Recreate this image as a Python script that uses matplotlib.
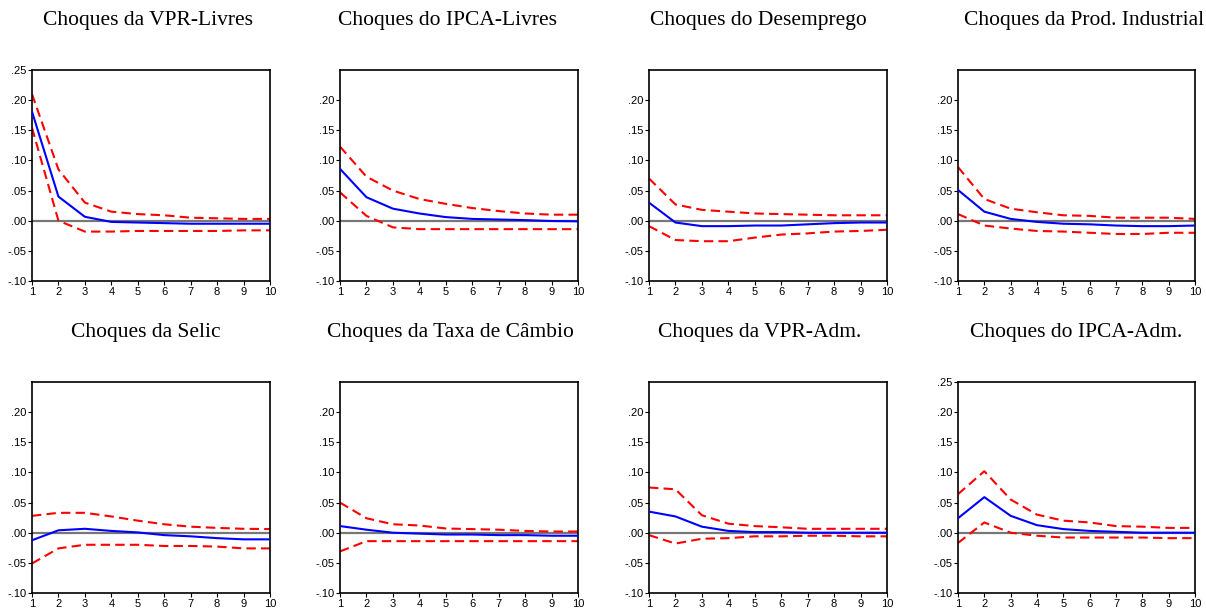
import matplotlib
matplotlib.use('Agg')
import matplotlib.pyplot as plt

# horizon
periods = [1, 2, 3, 4, 5, 6, 7, 8, 9, 10]

titles = ['Choques da VPR-Livres', 'Choques do IPCA-Livres', 'Choques do Desemprego',
          'Choques da Prod. Industrial', 'Choques da Selic', 'Choques da Taxa de Câmbio',
          'Choques da VPR-Adm.', 'Choques do IPCA-Adm.']

# impulse responses (blue) and +/- 2 s.e. bands (red dashed)
resp_vpr_livres = [0.181, 0.040, 0.0065, -0.002, -0.003, -0.004, -0.005, -0.005, -0.005, -0.005]
up_vpr_livres = [0.210, 0.085, 0.030, 0.015, 0.011, 0.009, 0.005, 0.004, 0.003, 0.003]
lo_vpr_livres = [0.154, 0.000, -0.018, -0.018, -0.017, -0.017, -0.017, -0.017, -0.016, -0.016]

resp_ipca_livres = [0.086, 0.039, 0.020, 0.012, 0.006, 0.003, 0.002, 0.001, -0.0005, -0.001]
up_ipca_livres = [0.123, 0.073, 0.050, 0.036, 0.028, 0.021, 0.016, 0.012, 0.010, 0.010]
lo_ipca_livres = [0.047, 0.008, -0.011, -0.014, -0.014, -0.014, -0.014, -0.014, -0.014, -0.014]

resp_desemprego = [0.030, -0.003, -0.009, -0.009, -0.008, -0.008, -0.006, -0.004, -0.003, -0.003]
up_desemprego = [0.070, 0.027, 0.018, 0.015, 0.012, 0.011, 0.010, 0.009, 0.009, 0.009]
lo_desemprego = [-0.009, -0.032, -0.034, -0.034, -0.028, -0.023, -0.021, -0.018, -0.017, -0.015]

resp_prod = [0.051, 0.015, 0.003, -0.002, -0.005, -0.006, -0.008, -0.009, -0.009, -0.008]
up_prod = [0.089, 0.036, 0.020, 0.014, 0.009, 0.008, 0.005, 0.005, 0.005, 0.003]
lo_prod = [0.011, -0.008, -0.013, -0.017, -0.018, -0.020, -0.022, -0.022, -0.020, -0.020]

resp_selic = [-0.0125, 0.004, 0.0065, 0.003, 0.0005, -0.004, -0.006, -0.009, -0.011, -0.011]
up_selic = [0.028, 0.033, 0.033, 0.027, 0.020, 0.014, 0.010, 0.008, 0.0065, 0.006]
lo_selic = [-0.051, -0.026, -0.020, -0.020, -0.020, -0.022, -0.022, -0.023, -0.026, -0.026]

resp_cambio = [0.011, 0.005, 0.000, -0.0015, -0.003, -0.003, -0.004, -0.004, -0.005, -0.005]
up_cambio = [0.050, 0.024, 0.014, 0.012, 0.007, 0.006, 0.005, 0.003, 0.002, 0.002]
lo_cambio = [-0.031, -0.014, -0.014, -0.014, -0.014, -0.014, -0.014, -0.014, -0.014, -0.014]

resp_vpr_adm = [0.035, 0.027, 0.010, 0.003, 0.001, 0.001, 0.000, 0.000, 0.000, 0.000]
up_vpr_adm = [0.075, 0.072, 0.029, 0.015, 0.011, 0.009, 0.0065, 0.0065, 0.0065, 0.0065]
lo_vpr_adm = [-0.004, -0.018, -0.010, -0.009, -0.006, -0.006, -0.005, -0.005, -0.006, -0.006]

resp_ipca_adm = [0.024, 0.059, 0.028, 0.0125, 0.006, 0.003, 0.0015, 0.000, 0.000, 0.000]
up_ipca_adm = [0.064, 0.102, 0.055, 0.030, 0.020, 0.017, 0.011, 0.010, 0.008, 0.008]
lo_ipca_adm = [-0.017, 0.017, 0.000, -0.005, -0.008, -0.008, -0.008, -0.008, -0.009, -0.009]

responses = [resp_vpr_livres, resp_ipca_livres, resp_desemprego, resp_prod,
             resp_selic, resp_cambio, resp_vpr_adm, resp_ipca_adm]
uppers = [up_vpr_livres, up_ipca_livres, up_desemprego, up_prod,
          up_selic, up_cambio, up_vpr_adm, up_ipca_adm]
lowers = [lo_vpr_livres, lo_ipca_livres, lo_desemprego, lo_prod,
          lo_selic, lo_cambio, lo_vpr_adm, lo_ipca_adm]

yticks = [-0.10, -0.05, 0.00, 0.05, 0.10, 0.15, 0.20, 0.25]
ytick_labels = ['-.10', '-.05', '.00', '.05', '.10', '.15', '.20', '.25']
show_top_label = [True, False, False, False, False, False, False, True]

W, H = 1206, 611
fig = plt.figure(figsize=(W / 100, H / 100), dpi=100)

# panel placement in pixels
lefts = [32, 340, 649, 958]
widths = [238, 238, 238, 237]
tops = [70, 382]
ph = 211
title_x = [148, 448, 758, 1084, 146, 450, 760, 1076]
title_y = [21, 333]

for i in range(8):
    r, c = divmod(i, 4)
    ax = fig.add_axes([lefts[c] / W, 1 - (tops[r] + ph) / H, widths[c] / W, ph / H])
    ax.axhline(0, color='#777777', lw=1.6, zorder=1)
    ax.plot(periods, uppers[i], color='#ff0000', lw=1.5, ls=(0, (4.5, 2.5)), zorder=2)
    ax.plot(periods, lowers[i], color='#ff0000', lw=1.5, ls=(0, (4.5, 2.5)), zorder=2)
    ax.plot(periods, responses[i], color='#0000ff', lw=1.5, zorder=3)
    ax.set_xlim(1, 10)
    ax.set_ylim(-0.10, 0.25)
    ax.set_xticks(periods)
    ax.set_xticklabels([str(p) for p in periods])
    if show_top_label[i]:
        ax.set_yticks(yticks)
        ax.set_yticklabels(ytick_labels)
    else:
        ax.set_yticks(yticks[:-1])
        ax.set_yticklabels(ytick_labels[:-1])
    ax.tick_params(labelsize=8, length=3, width=0.8, pad=1)
    for lab in ax.get_xticklabels() + ax.get_yticklabels():
        lab.set_family('Liberation Sans')
    for s in ax.spines.values():
        s.set_linewidth(1.2)
        s.set_color('black')
    fig.text(title_x[i] / W, 1 - title_y[r] / H, titles[i], ha='center', va='center',
             fontsize=15.5, family='Liberation Serif')

fig.savefig('out.png', dpi=100)
